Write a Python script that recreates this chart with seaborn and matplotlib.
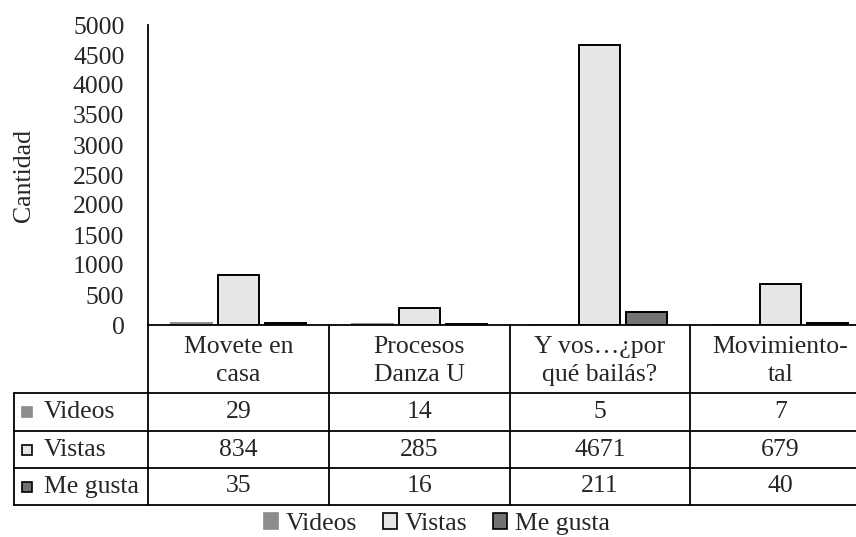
import pandas as pd
import matplotlib.pyplot as plt
import seaborn as sns
from matplotlib.patches import Rectangle

# === DATA ===
categories = ["Movete en\ncasa", "Procesos\nDanza U", "Y vos…¿por\nqué bailás?", "Movimiento-\ntal"]
series = ["Videos", "Vistas", "Me gusta"]
videos = [29, 14, 5, 7]
vistas = [834, 285, 4671, 679]
me_gusta = [35, 16, 211, 40]
yticks = list(range(0, 5001, 500))

fills = {"Videos": "#8c8c8c", "Vistas": "#e6e6e6", "Me gusta": "#767171"}
edges = {"Videos": "#8c8c8c", "Vistas": "#000000", "Me gusta": "#000000"}

df = pd.DataFrame({
    "categoria": categories * 3,
    "serie": [s for s in series for _ in categories],
    "valor": videos + vistas + me_gusta,
})

# === STYLE ===
sns.set_style("white")
plt.rcParams["font.family"] = ["Liberation Serif", "DejaVu Serif"]
FS = 18.5

W, H = 856, 537
fig = plt.figure(figsize=(W / 100, H / 100), dpi=100)
ax = fig.add_axes([148 / W, 1 - 325 / H, (W - 148) / W, 300 / H])

sns.barplot(data=df, x="categoria", y="valor", hue="serie", hue_order=series,
            order=categories, palette=fills, width=0.78, gap=0.13,
            linewidth=1.4, ax=ax, legend=False)
for cont, s in zip(ax.containers, series):
    for p in cont:
        p.set_edgecolor(edges[s])

ax.set_xlim(-0.5, 3.417)
ax.set_ylim(0, 5000)
ax.set_yticks(yticks)
ax.tick_params(axis="y", length=0, pad=17, labelsize=FS)
ax.set_xticks([])
ax.set_xlabel("")
ax.set_ylabel("Cantidad", fontsize=FS)
ax.yaxis.set_label_coords(-0.16, 0.5)
for side in ["top", "right"]:
    ax.spines[side].set_visible(False)
for side in ["left", "bottom"]:
    ax.spines[side].set_color("black")
    ax.spines[side].set_linewidth(1.3)

# === DATA TABLE ===
TB = 505  # bottom of the table, pixels from top
tax = fig.add_axes([148 / W, (H - TB) / H, (W - 148) / W, (TB - 325) / H], sharex=ax)
tax.set_ylim(TB - 325, 0)
tax.axis("off")
left_x = -0.5 - (148 - 14) / 181
right_x = 3.6
lw = 1.3
row_edges = [68, 106, 143, TB - 325]
for y in row_edges:
    tax.plot([left_x, right_x], [y, y], color="black", lw=lw, clip_on=False)
for i in range(len(categories)):
    tax.plot([i - 0.5, i - 0.5], [0, TB - 325], color="black", lw=lw, clip_on=False)
tax.plot([left_x, left_x], [row_edges[0], TB - 325], color="black", lw=lw, clip_on=False)

for i, cat in enumerate(categories):
    tax.text(i, 36, cat, ha="center", va="center", fontsize=FS, linespacing=1.35, clip_on=False)

rows = [videos, vistas, me_gusta]
for r, (s, vals) in enumerate(zip(series, rows)):
    yc = (row_edges[r] + row_edges[r + 1]) / 2
    tax.add_patch(Rectangle((left_x + 8 / 181, yc - 5), 10 / 181, 10, facecolor=fills[s],
                            edgecolor=edges[s], lw=1.2, clip_on=False))
    tax.text(left_x + 30 / 181, yc, s, ha="left", va="center", fontsize=FS, clip_on=False)
    for i, v in enumerate(vals):
        tax.text(i, yc, str(v), ha="center", va="center", fontsize=FS, clip_on=False)

# === LEGEND ===
handles = [Rectangle((0, 0), 1, 1, facecolor=fills[s], edgecolor=edges[s], lw=1.2) for s in series]
fig.legend(handles, series, loc="center", bbox_to_anchor=(437 / W, 1 - 524 / H), ncol=3,
           frameon=False, fontsize=FS, handlelength=0.55, handleheight=0.55,
           handletextpad=0.3, columnspacing=1.0, borderpad=0)

fig.savefig("out.png", dpi=100)
